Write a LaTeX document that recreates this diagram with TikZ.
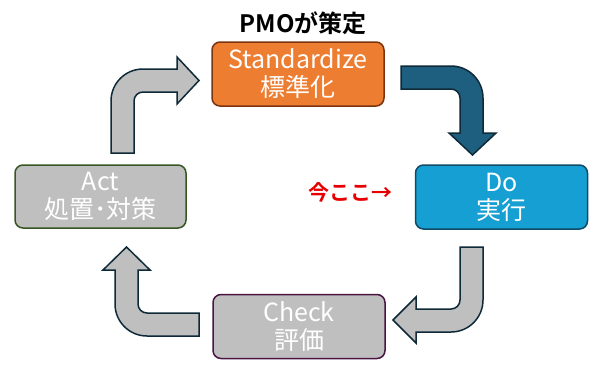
\documentclass[tikz,border=0pt]{standalone}
\usepackage{fontspec}
\setmainfont{Noto Sans CJK JP}
\newfontfamily\jpbold{Noto Sans CJK JP Bold}
\definecolor{stdfill}{HTML}{ED7D31}
\definecolor{stdline}{HTML}{7A3410}
\definecolor{dofill}{HTML}{159FD3}
\definecolor{doline}{HTML}{104A64}
\definecolor{grayfill}{HTML}{BFBFBF}
\definecolor{actline}{HTML}{375623}
\definecolor{chkline}{HTML}{4A1442}
\definecolor{arrblue}{HTML}{1E5E7E}
\definecolor{arrline}{HTML}{0E2A38}
\definecolor{nowred}{HTML}{E60000}
\tikzset{
  phase/.style={draw, rounded corners=8pt, line width=1.5pt, minimum width=172pt, minimum height=64pt,
    inner sep=0pt, align=center, text=white, font=\fontsize{25}{28}\selectfont},
  bentarrow/.style={draw=arrline, line width=1.5pt, line join=miter},
}
\begin{document}
\begin{tikzpicture}[x=1pt,y=-1pt]
\useasboundingbox (0,0) rectangle (599,373);
% boxes
\node[phase, fill=stdfill, draw=stdline] (std) at (298,74) {Standardize\\標準化};
\node[phase, fill=dofill, draw=doline] (do) at (501.5,197) {Do\\実行};
\node[phase, fill=grayfill, draw=chkline] (chk) at (299,326.5) {Check\\評価};
\node[phase, fill=grayfill, draw=actline, minimum width=171pt, minimum height=63pt] (act) at (100.5,196.5) {Act\\処置･対策};
% labels
\node[font=\jpbold\fontsize{24}{26}\selectfont] (pmo) at (303,23) {PMOが策定};
\node[font=\jpbold\fontsize{21}{24}\selectfont, text=nowred, anchor=east] (now) at (396,192) {今ここ→};
% Standardize -> Do
\draw[bentarrow, fill=arrblue] (401,66) -- (451,66) .. controls (468.7,66) and (483,80.3) .. (483,98)
  -- (483,133) -- (496,133) -- (472.5,155) -- (449,133) -- (460,133) -- (460,98)
  .. controls (460,93) and (456,89) .. (451,89) -- (401,89) -- cycle;
% Do -> Check
\draw[bentarrow, fill=grayfill] (460,247) -- (483,247) -- (483,300)
  .. controls (483,317.7) and (468.7,332) .. (451,332) -- (416,332) -- (416,343) -- (393,320)
  -- (416,297) -- (416,309) -- (451,309) .. controls (456,309) and (460,305) .. (460,300) -- cycle;
% Check -> Act
\draw[bentarrow, fill=grayfill] (199,313) -- (199,336) -- (147,336)
  .. controls (129.3,336) and (115,321.7) .. (115,304) -- (115,270) -- (103,270) -- (126.5,247)
  -- (150,270) -- (138,270) -- (138,304) .. controls (138,309) and (142,313) .. (147,313) -- cycle;
% Act -> Standardize
\draw[bentarrow, fill=grayfill] (111,153) -- (111,101) .. controls (111,83.3) and (125.3,69) .. (143,69)
  -- (177,69) -- (177,57) -- (199,80.5) -- (177,104) -- (177,92) -- (143,92)
  .. controls (138,92) and (134,96) .. (134,101) -- (134,153) -- cycle;
\end{tikzpicture}
\end{document}
